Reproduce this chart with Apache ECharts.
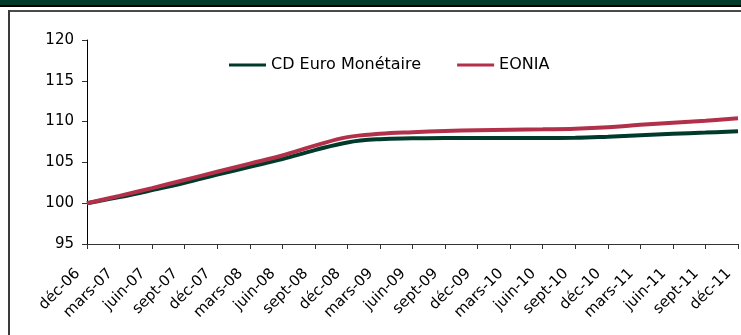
<!DOCTYPE html>
<html>
<head>
<meta charset="utf-8">
<script src="https://cdn.jsdelivr.net/npm/echarts@6/dist/echarts.min.js"></script>
<style>
  html, body { margin: 0; padding: 0; background: #fff; }
  #chart { width: 741px; height: 335px; }
</style>
</head>
<body>
<div id="chart"></div>
<script>
// Quarterly index levels, base 100 at end of 2006
const categories = [
  'déc-06', 'mars-07', 'juin-07', 'sept-07', 'déc-07', 'mars-08', 'juin-08',
  'sept-08', 'déc-08', 'mars-09', 'juin-09', 'sept-09', 'déc-09', 'mars-10',
  'juin-10', 'sept-10', 'déc-10', 'mars-11', 'juin-11', 'sept-11', 'déc-11'
];
const cdEuroMonetaire = [
  100, 100.75, 101.6, 102.5, 103.5, 104.45, 105.4, 106.5, 107.45, 107.85,
  107.95, 108.0, 108.0, 108.0, 108.0, 108.02, 108.15, 108.33, 108.5, 108.65, 108.82
];
const eonia = [
  100, 100.9, 101.85, 102.85, 103.85, 104.85, 105.85, 107.05, 108.1, 108.5,
  108.7, 108.85, 108.95, 109.0, 109.05, 109.12, 109.3, 109.6, 109.85, 110.1, 110.4
];
const yTicks = { min: 95, max: 120, step: 5 };
const seriesNames = ['CD Euro Monétaire', 'EONIA'];

const GREEN = '#003a2a';
const RED = '#b3304a';
const FONT = 'DejaVu Sans, Arial, sans-serif';

const chart = echarts.init(document.getElementById('chart'));
chart.setOption({
  animation: false,
  backgroundColor: '#fff',
  textStyle: { fontFamily: FONT },
  graphic: [
    { type: 'rect', shape: { x: 0, y: 0, width: 741, height: 5 }, style: { fill: '#003b2c' }, silent: true },
    { type: 'rect', shape: { x: 0, y: 5, width: 741, height: 2 }, style: { fill: '#000' }, silent: true },
    { type: 'rect', shape: { x: 8, y: 10, width: 733, height: 2 }, style: { fill: '#4a4a4a' }, silent: true },
    { type: 'rect', shape: { x: 8, y: 10, width: 2, height: 325 }, style: { fill: '#3a3a3a' }, silent: true }
  ],
  legend: {
    top: 52,
    left: 224,
    itemGap: 36,
    itemWidth: 37,
    itemHeight: 3,
    icon: 'rect',
    textStyle: { fontFamily: FONT, fontSize: 16, color: '#000' },
    data: seriesNames
  },
  grid: { left: 87, top: 40, right: 3, bottom: 91, containLabel: false },
  xAxis: {
    type: 'category',
    data: categories,
    boundaryGap: false,
    axisLine: { lineStyle: { color: '#333', width: 1 } },
    axisTick: { show: true, length: 5, alignWithLabel: true, lineStyle: { color: '#333' } },
    axisLabel: {
      rotate: 45, fontSize: 15, color: '#000', fontFamily: FONT,
      margin: 18, padding: [0, 13, 0, 0], interval: 0
    },
    splitLine: { show: false }
  },
  yAxis: {
    type: 'value',
    min: yTicks.min,
    max: yTicks.max,
    interval: yTicks.step,
    axisLine: { show: true, lineStyle: { color: '#000', width: 1 } },
    axisTick: { show: true, length: 5, lineStyle: { color: '#333' } },
    axisLabel: { fontSize: 15, color: '#000', fontFamily: FONT, margin: 13 },
    splitLine: { show: false }
  },
  series: [
    {
      name: seriesNames[0],
      type: 'line',
      data: cdEuroMonetaire,
      smooth: 0.4,
      showSymbol: false,
      symbol: 'none',
      lineStyle: { color: GREEN, width: 4 },
      itemStyle: { color: GREEN }
    },
    {
      name: seriesNames[1],
      type: 'line',
      data: eonia,
      smooth: 0.4,
      showSymbol: false,
      symbol: 'none',
      lineStyle: { color: RED, width: 4 },
      itemStyle: { color: RED }
    }
  ]
});
</script>
</body>
</html>
